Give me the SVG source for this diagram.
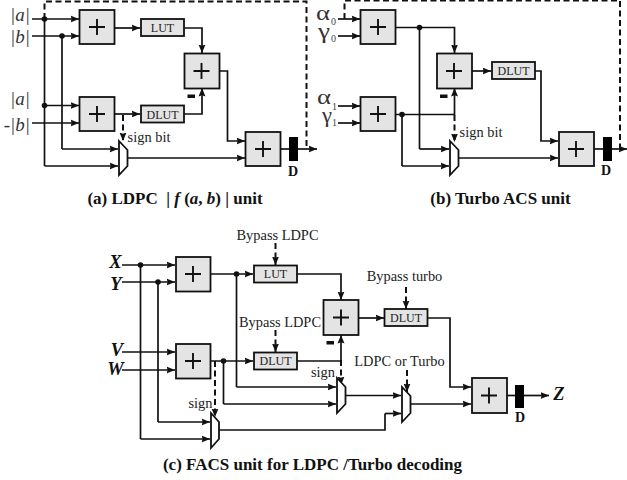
<svg xmlns="http://www.w3.org/2000/svg" width="627" height="480" viewBox="0 0 627 480">
<style>
text{font-family:"Liberation Serif","Times New Roman",serif;fill:#222}
.add{fill:#e4e4e4;stroke:#111;stroke-width:1.8}
.box{fill:#e4e4e4;stroke:#111;stroke-width:1.8}
.mux{fill:#fff;stroke:#111;stroke-width:1.8}
.w{fill:none;stroke:#111;stroke-width:1.7}
.a{marker-end:url(#ah)}
.d{stroke-dasharray:6 3.5;stroke-width:2}
.lbl{font-size:14.4px;text-anchor:middle}
.sm{font-size:12px;text-anchor:middle}
.cap{font-size:17px;font-weight:bold;fill:#111;text-anchor:middle}
.v{font-size:19px;font-style:italic;fill:#333;text-anchor:end}
.g{font-size:20px;fill:#333}
.s{font-size:10px;fill:#444}
.xyz{font-size:18.500px;font-style:italic;font-weight:bold;fill:#111;text-anchor:middle}
.D{font-size:14px;font-weight:bold;fill:#111;text-anchor:middle}
.neg{fill:#111}
</style>
<defs>
<marker id="ah" markerUnits="userSpaceOnUse" markerWidth="10" markerHeight="10" refX="8.500" refY="4.500" orient="auto"><path d="M0 1L8.500 4.500L0 8L1.200 4.500Z" fill="#111"/></marker>
<g id="plus"><path d="M-8 0H8M0-8V8" stroke="#111" stroke-width="1.9" fill="none"/></g>
</defs>

<g id="connectors">
<!-- (a) -->
<path class="w a" d="M32 19H79"/><path class="w a" d="M32 36H79"/>
<path class="w" d="M44.500 19V166"/><path class="w a" d="M44.500 166H118"/>
<path class="w a" d="M44.500 105.500H79"/><path class="w a" d="M32 123H79"/>
<path class="w" d="M62 36V149"/><path class="w a" d="M62 149H118"/>
<path class="w a" d="M115 28H140"/><path class="w a" d="M184 28H202V53"/>
<path class="w a" d="M115 114H140"/><path class="w a" d="M184 114H202V88"/>
<path class="w a" d="M219 71H227.500V141H245"/><path class="w a" d="M128 158H245"/>
<path class="w" d="M280 149H289"/><path class="w a" d="M298 149H317"/>
<path class="w d a" d="M123 115V141"/>
<path class="w d" d="M44.500 19V1.500H306.500V149"/>
<circle cx="44.500" cy="19" r="2.800" fill="#111"/><circle cx="62" cy="36" r="2.800" fill="#111"/><circle cx="44.500" cy="105.500" r="2.800" fill="#111"/>
<!-- (b) -->
<path class="w a" d="M338 19H360"/><path class="w a" d="M338 36H360"/>
<path class="w a" d="M338 106H360"/><path class="w a" d="M338 123H360"/>
<path class="w a" d="M395 27.500H454.500V53"/><path class="w" d="M419.500 27.500V149"/><path class="w a" d="M419.500 149H449"/>
<path class="w a" d="M395 114.500H454.500V88"/><path class="w" d="M402 114.500V166"/><path class="w a" d="M402 166H449"/>
<path class="w a" d="M472 71H491"/><path class="w a" d="M535 71H541V141H558"/>
<path class="w a" d="M459 158H558"/>
<path class="w" d="M594 149H603"/><path class="w a" d="M612 149H627"/>
<path class="w d a" d="M454.500 115V142"/>
<path class="w d" d="M344.500 19V0.500H620V149"/>
<circle cx="419.500" cy="27.500" r="2.800" fill="#111"/><circle cx="402" cy="114.500" r="2.800" fill="#111"/>
<!-- (c) -->
<path class="w a" d="M122 265H175"/><path class="w a" d="M122 282H175"/>
<path class="w a" d="M122 352H175"/><path class="w a" d="M122 370H175"/>
<path class="w" d="M140.500 265V439"/><path class="w a" d="M140.500 439H210"/>
<path class="w" d="M158 282V422"/><path class="w a" d="M158 422H210"/>
<path class="w a" d="M210 274H253"/><path class="w" d="M236.500 274V387"/><path class="w a" d="M236.500 387H336"/>
<path class="w a" d="M210 361H253"/><path class="w" d="M223.500 361V404"/><path class="w a" d="M223.500 404H336"/>
<path class="w a" d="M297 274H341V300"/><path class="w a" d="M297 361H341V335"/>
<path class="w a" d="M358.500 318H384"/><path class="w a" d="M428 318H450V387H471"/>
<path class="w a" d="M346 395.500H401"/>
<path class="w" d="M219 430H385V413.500"/><path class="w a" d="M385 413.500H401"/>
<path class="w a" d="M411 404H471"/>
<path class="w" d="M507 395.500H515"/><path class="w a" d="M524 395.500H549"/>
<path class="w d a" d="M275.500 243V265"/><path class="w d a" d="M275.500 330V352"/>
<path class="w d a" d="M406 287V309"/><path class="w d a" d="M215 361V417"/>
<path class="w d a" d="M341 360V385"/><path class="w d a" d="M407 370V392"/>
<circle cx="140.500" cy="265" r="2.800" fill="#111"/><circle cx="158" cy="282" r="2.800" fill="#111"/><circle cx="236.500" cy="274" r="2.800" fill="#111"/><circle cx="223.500" cy="361" r="2.800" fill="#111"/>
</g>

<g id="a-add1"><rect class="add" x="79.500" y="10" width="35" height="34"/><use href="#plus" x="97" y="27"/></g>
<g id="a-add2"><rect class="add" x="184.500" y="53.500" width="35" height="35"/><use href="#plus" x="201.500" y="71"/></g>
<g id="a-add3"><rect class="add" x="79.500" y="97" width="35" height="34"/><use href="#plus" x="97" y="114"/></g>
<g id="a-add4"><rect class="add" x="245.500" y="132" width="35" height="34"/><use href="#plus" x="263" y="149"/></g>
<g id="a-lut"><rect class="box" x="141" y="19" width="43" height="17"/><text class="sm" x="162.500" y="31.500">LUT</text></g>
<g id="a-dlut"><rect class="box" x="141" y="105.500" width="43" height="17"/><text class="sm" x="162.500" y="118.500">DLUT</text></g>
<g id="a-mux"><path class="mux" d="M119 141L127.500 150V166L119 175Z"/></g>
<g id="a-d"><rect x="289" y="137" width="9" height="24" fill="#000"/><text class="D" x="293" y="176">D</text></g>

<g id="b-add1"><rect class="add" x="360.500" y="10" width="35" height="34"/><use href="#plus" x="378" y="27"/></g>
<g id="b-add2"><rect class="add" x="437" y="53.500" width="35" height="35"/><use href="#plus" x="454" y="71"/></g>
<g id="b-add3"><rect class="add" x="360.500" y="97" width="35" height="34"/><use href="#plus" x="378" y="114"/></g>
<g id="b-add4"><rect class="add" x="559" y="132" width="35" height="34"/><use href="#plus" x="576" y="149"/></g>
<g id="b-dlut"><rect class="box" x="492" y="62" width="43" height="17"/><text class="sm" x="513.500" y="75">DLUT</text></g>
<g id="b-mux"><path class="mux" d="M450 141L458.500 150V166L450 175Z"/></g>
<g id="b-d"><rect x="603" y="137" width="9" height="24" fill="#000"/><text class="D" x="606" y="175">D</text></g>

<g id="c-add1"><rect class="add" x="176" y="257" width="34.500" height="34.500"/><use href="#plus" x="193" y="274"/></g>
<g id="c-add2"><rect class="add" x="323.500" y="300" width="35" height="35"/><use href="#plus" x="341" y="317.500"/></g>
<g id="c-add3"><rect class="add" x="176" y="344" width="34.500" height="34.500"/><use href="#plus" x="193" y="361"/></g>
<g id="c-add4"><rect class="add" x="472" y="378" width="35" height="35"/><use href="#plus" x="489" y="395.500"/></g>
<g id="c-lut"><rect class="box" x="254" y="265.500" width="43" height="17"/><text class="sm" x="275.500" y="278">LUT</text></g>
<g id="c-dlut1"><rect class="box" x="254" y="352.500" width="43" height="17"/><text class="sm" x="275.500" y="365">DLUT</text></g>
<g id="c-dlut2"><rect class="box" x="384.500" y="309" width="43" height="17"/><text class="sm" x="406" y="322">DLUT</text></g>
<g id="c-mux1"><path class="mux" d="M211 413L219 422V439L211 448Z"/></g>
<g id="c-mux2"><path class="mux" d="M337 378L345.500 387V404L337 413Z"/></g>
<g id="c-mux3"><path class="mux" d="M402 387L410.500 396V413L402 422Z"/></g>
<g id="c-d"><rect x="515" y="385" width="9" height="23" fill="#000"/><text class="D" x="520" y="422">D</text></g>

<g id="labels">
<text class="v" x="30" y="21">|a|</text><text class="v" x="30" y="43">|b|</text>
<text class="v" x="30" y="105">|a|</text><text class="v" x="30" y="131">-|b|</text>
<text class="g" x="316" y="20" textLength="14" lengthAdjust="spacingAndGlyphs">α</text><text class="s" x="331" y="25">0</text>
<text class="g" x="318" y="38" textLength="12" lengthAdjust="spacingAndGlyphs">γ</text><text class="s" x="331" y="42">0</text>
<text class="g" x="317" y="104" textLength="14" lengthAdjust="spacingAndGlyphs">α</text><text class="s" x="332" y="110">1</text>
<text class="g" x="322" y="122" textLength="10" lengthAdjust="spacingAndGlyphs">γ</text><text class="s" x="332" y="126">1</text>
<text class="lbl" x="149" y="142">sign bit</text>
<text class="lbl" x="481" y="137">sign bit</text>
<rect class="neg" x="187.500" y="94.500" width="7.500" height="3.500"/>
<rect class="neg" x="440" y="94.500" width="7.500" height="3.500"/>
<rect class="neg" x="326.500" y="341" width="7.500" height="3.500"/>
<text class="lbl" x="277.500" y="240">Bypass LDPC</text>
<text class="lbl" x="280" y="327">Bypass LDPC</text>
<text class="lbl" x="404.500" y="281">Bypass turbo</text>
<text class="lbl" x="399.500" y="366">LDPC or Turbo</text>
<text class="lbl" x="323" y="377">sign</text>
<text class="lbl" x="200.500" y="408">sign</text>
<text class="xyz" x="115.500" y="268">X</text><text class="xyz" x="116" y="290">Y</text>
<text class="xyz" x="117" y="356">V</text><text class="xyz" x="115.500" y="375">W</text>
<text class="xyz" x="559" y="400">Z</text>
<text class="cap" x="175" y="204" xml:space="preserve">(a) LDPC  | <tspan font-style="italic">f</tspan> (<tspan font-style="italic">a</tspan>, <tspan font-style="italic">b</tspan>) | unit</text>
<text class="cap" x="500.500" y="204">(b) Turbo ACS unit</text>
<text class="cap" x="312.500" y="470">(c) FACS unit for LDPC /Turbo decoding</text>
</g>
</svg>
